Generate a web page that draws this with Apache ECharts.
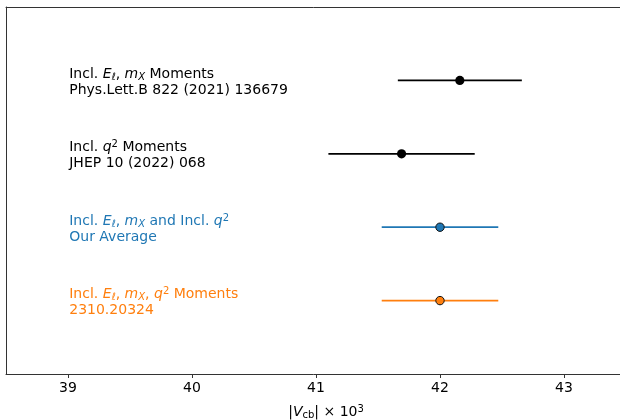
<!DOCTYPE html>
<html><head><meta charset="utf-8">
<script src="https://cdn.jsdelivr.net/npm/echarts@6/dist/echarts.min.js"></script>
<style>html,body{margin:0;padding:0;background:#fff}#c{width:620px;height:420px}</style>
</head><body><div id="c"></div>
<script>
// Data
const labelsLine1 = [
  [['n','Incl. '],['i','E'],['sub','ℓ'],['n',', '],['i','m'],['sub','X'],['n',' Moments']],
  [['n','Incl. '],['i','q'],['sup','2'],['n',' Moments']],
  [['n','Incl. '],['i','E'],['sub','ℓ'],['n',', '],['i','m'],['sub','X'],['n',' and Incl. '],['i','q'],['sup','2']],
  [['n','Incl. '],['i','E'],['sub','ℓ'],['n',', '],['i','m'],['sub','X'],['n',', '],['i','q'],['sup','2'],['n',' Moments']]
];
const labelsLine2 = ['Phys.Lett.B 822 (2021) 136679', 'JHEP 10 (2022) 068', 'Our Average', '2310.20324'];
const centralValues = [42.16, 41.69, 42.00, 42.00];
const errors = [0.50, 0.59, 0.47, 0.47];
const rowPositions = [4, 3, 2, 1];
const rowColors = ['#000000', '#000000', '#1f77b4', '#ff7f0e'];
const tickValues = [39, 40, 41, 42, 43];
const labelX = 39.01;

const font = 'DejaVu Sans';
function richFor(color) {
  return {
    n: {fontFamily: font, fontSize: 14, color: color, fill: color, lineHeight: 16},
    i: {fontFamily: font, fontSize: 14, fontStyle: 'italic', color: color, fill: color, lineHeight: 16},
    sub: {fontFamily: font, fontSize: 10, fontStyle: 'italic', color: color, fill: color, lineHeight: 16, verticalAlign: 'bottom', padding: [6,0,0,0]},
    subu: {fontFamily: font, fontSize: 10, color: color, fill: color, lineHeight: 16, verticalAlign: 'bottom', padding: [6,0,0,0]},
    sup: {fontFamily: font, fontSize: 10, color: color, fill: color, lineHeight: 16, verticalAlign: 'top', padding: [0,0,6,0]}
  };
}
function buildText(i) {
  return labelsLine1[i].map(t => '{' + t[0] + '|' + t[1] + '}').join('') + '\n{n|' + labelsLine2[i] + '}';
}

const errData = centralValues.map((v, i) => [v, rowPositions[i], errors[i], i]);
const labelData = labelsLine2.map((_, i) => [labelX, rowPositions[i], i]);

const xMin = 38.5, xMax = 38.5 + 640 / 124;
const chart = echarts.init(document.getElementById('c'), null, {renderer: 'canvas'});
chart.setOption({
  animation: false,
  grid: {left: 6, top: 7, width: 640, height: 367, show: false,
         outerBoundsMode: 'none', containLabel: false},
  xAxis: [{
    type: 'value', min: xMin, max: xMax, position: 'bottom',
    splitLine: {show: false},
    axisLine: {show: true, lineStyle: {color: '#333'}},
    axisTick: {show: true, customValues: tickValues, length: 4, lineStyle: {color: '#333'}},
    axisLabel: {customValues: tickValues, fontFamily: font, fontSize: 14, color: '#000', margin: 7},
    name: '{n||}{i|V}{subu|cb}{n|| × 10}{sup|3}',
    nameLocation: 'middle', nameGap: 30,
    nameTextStyle: {rich: richFor('#000')}
  }, {
    type: 'value', min: xMin, max: xMax, position: 'top',
    splitLine: {show: false},
    axisLine: {show: true, lineStyle: {color: '#333'}},
    axisTick: {show: false}, axisLabel: {show: false}
  }],
  yAxis: {
    type: 'value', min: 0, max: 5,
    axisLine: {show: true, lineStyle: {color: '#333'}},
    axisTick: {show: false}, axisLabel: {show: false}, splitLine: {show: false}
  },
  series: [
    {
      type: 'custom',
      data: errData,
      renderItem: function (params, api) {
        const v = api.value(0), y = api.value(1), e = api.value(2), idx = api.value(3);
        const p0 = api.coord([v - e, y]);
        const p1 = api.coord([v + e, y]);
        const pc = api.coord([v, y]);
        const col = rowColors[idx];
        const black = idx < 2;
        return {
          type: 'group',
          children: [
            {type: 'line', shape: {x1: p0[0], y1: p0[1], x2: p1[0], y2: p1[1]}, style: {stroke: col, lineWidth: 1.8}},
            {type: 'circle', shape: {cx: pc[0], cy: pc[1], r: black ? 4.6 : 4.2},
             style: {fill: col, stroke: '#111', lineWidth: black ? 0 : 1}}
          ]
        };
      }
    },
    {
      type: 'custom',
      data: labelData,
      renderItem: function (params, api) {
        const idx = api.value(2);
        const p = api.coord([api.value(0), api.value(1)]);
        return {
          type: 'text',
          x: p[0], y: p[1] + 2,
          style: {
            text: buildText(idx),
            fill: rowColors[idx],
            rich: richFor(rowColors[idx]),
            verticalAlign: 'middle', align: 'left'
          }
        };
      }
    }
  ]
});
</script></body></html>
